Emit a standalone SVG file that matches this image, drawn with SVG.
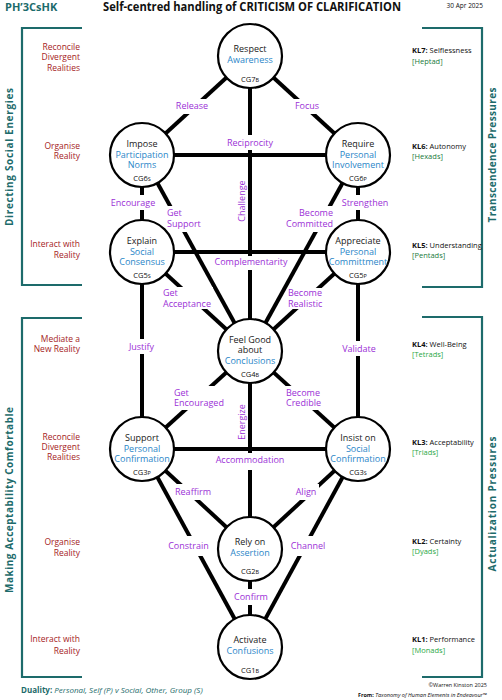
<svg xmlns="http://www.w3.org/2000/svg" width="502" height="700" viewBox="0 0 502 700">
<style>
text{font-family:"Open Sans","Noto Sans","Liberation Sans",sans-serif}
.ln{stroke:#000;stroke-width:4;fill:none}
.nd{fill:#fff;stroke:#000;stroke-width:2.2}
.t1{font-size:9px;fill:#1a1a1a;text-anchor:middle}
.t2{font-size:9px;fill:#2a86c8;text-anchor:middle}
.cd{font-size:7.5px;fill:#111;text-anchor:middle}
.sb{font-size:5.5px}
.lb{font-size:9px;fill:#9b30d6;text-anchor:middle}
.lbl{font-size:9px;fill:#9b30d6}
.bg{fill:#fff}
.br{stroke:#1d6b6b;stroke-width:2.2;fill:none}
.vt{font-size:10px;font-weight:bold;fill:#1d6b6b;text-anchor:middle}
.lv{font-size:8.5px;fill:#a51d24;text-anchor:end}
.kl{font-size:7.5px;fill:#111}
.g1{font-size:7.5px;fill:#217a3c}
.g2{font-size:7.5px;fill:#2aa845}
</style>
<rect width="502" height="700" fill="#fff"/>
<g id="header">
<text x="5" y="11" font-size="11" font-weight="bold" fill="#1d6b6b">PH’3CsHK</text>
<text x="252" y="11" font-size="11.5" font-weight="bold" fill="#111" text-anchor="middle" textLength="298" lengthAdjust="spacingAndGlyphs">Self-centred handling of CRITICISM OF CLARIFICATION</text>
<text x="483" y="7.5" font-size="6.5" fill="#111" text-anchor="end">30 Apr 2025</text>
</g>
<g id="brackets">
<path class="br" d="M82,28H22V285H82"/>
<path class="br" d="M82,318H22V677H82"/>
<path class="br" d="M422,28H482V287H422"/>
<path class="br" d="M422,317H482V677H422"/>
<text class="vt" transform="translate(13,157) rotate(-90)" textLength="138" lengthAdjust="spacing">Directing Social Energies</text>
<text class="vt" transform="translate(13,500) rotate(-90)" textLength="186" lengthAdjust="spacing">Making Acceptability Comfortable</text>
<text class="vt" transform="translate(496,155) rotate(-90)" textLength="135" lengthAdjust="spacing">Transcendence Pressures</text>
<text class="vt" transform="translate(496,504) rotate(-90)" textLength="135" lengthAdjust="spacing">Actualization Pressures</text>
</g>
<g id="levels-left">
<text class="lv" x="80" y="50">Reconcile</text><text class="lv" x="80" y="60">Divergent</text><text class="lv" x="80" y="71">Realities</text>
<text class="lv" x="80" y="148.5">Organise</text><text class="lv" x="80" y="159">Reality</text>
<text class="lv" x="80" y="247">Interact with</text><text class="lv" x="80" y="258">Reality</text>
<text class="lv" x="80" y="342">Mediate a</text><text class="lv" x="80" y="352">New Reality</text>
<text class="lv" x="80" y="440">Reconcile</text><text class="lv" x="80" y="450">Divergent</text><text class="lv" x="80" y="460">Realities</text>
<text class="lv" x="80" y="545">Organise</text><text class="lv" x="80" y="556">Reality</text>
<text class="lv" x="80" y="642">Interact with</text><text class="lv" x="80" y="654">Reality</text>
</g>
<g id="levels-right">
<text class="kl" x="412" y="53"><tspan font-weight="bold">KL7:</tspan> Selflessness</text><text class="g1" x="412" y="63.5">[Heptad]</text>
<text class="kl" x="412" y="148.5"><tspan font-weight="bold">KL6:</tspan> Autonomy</text><text class="g1" x="412" y="159">[Hexads]</text>
<text class="kl" x="412" y="248"><tspan font-weight="bold">KL5:</tspan> Understanding</text><text class="g1" x="412" y="258">[Pentads]</text>
<text class="kl" x="412" y="347"><tspan font-weight="bold">KL4:</tspan> Well-Being</text><text class="g2" x="412" y="357">[Tetrads]</text>
<text class="kl" x="412" y="444.5"><tspan font-weight="bold">KL3:</tspan> Acceptability</text><text class="g2" x="412" y="455">[Triads]</text>
<text class="kl" x="412" y="543.5"><tspan font-weight="bold">KL2:</tspan> Certainty</text><text class="g2" x="412" y="554">[Dyads]</text>
<text class="kl" x="412" y="642"><tspan font-weight="bold">KL1:</tspan> Performance</text><text class="g2" x="412" y="653">[Monads]</text>
</g>
<g id="connectors">
<line class="ln" x1="250" y1="56" x2="142" y2="155"/>
<line class="ln" x1="250" y1="56" x2="358" y2="155"/>
<line class="ln" x1="250" y1="56" x2="250" y2="351"/>
<line class="ln" x1="142" y1="155" x2="358" y2="155"/>
<line class="ln" x1="142" y1="155" x2="142" y2="252"/>
<line class="ln" x1="358" y1="155" x2="358" y2="252"/>
<line class="ln" x1="142" y1="155" x2="250" y2="351"/>
<line class="ln" x1="358" y1="155" x2="250" y2="351"/>
<line class="ln" x1="142" y1="252" x2="358" y2="252"/>
<line class="ln" x1="142" y1="252" x2="250" y2="351"/>
<line class="ln" x1="358" y1="252" x2="250" y2="351"/>
<line class="ln" x1="142" y1="252" x2="142" y2="449"/>
<line class="ln" x1="358" y1="252" x2="358" y2="449"/>
<line class="ln" x1="250" y1="351" x2="142" y2="449"/>
<line class="ln" x1="250" y1="351" x2="358" y2="449"/>
<line class="ln" x1="250" y1="351" x2="250" y2="549"/>
<line class="ln" x1="142" y1="449" x2="358" y2="449"/>
<line class="ln" x1="142" y1="449" x2="250" y2="549"/>
<line class="ln" x1="358" y1="449" x2="250" y2="549"/>
<line class="ln" x1="142" y1="449" x2="250" y2="647"/>
<line class="ln" x1="358" y1="449" x2="250" y2="647"/>
<line class="ln" x1="250" y1="549" x2="250" y2="647"/>
</g>
<g id="connector-labels">
<rect class="bg" x="174" y="99" width="36" height="15"/><text class="lb" x="192" y="109">Release</text>
<rect class="bg" x="292" y="99" width="30" height="15"/><text class="lb" x="307" y="109">Focus</text>
<rect class="bg" x="225" y="135" width="50" height="15"/><text class="lb" x="250" y="146">Reciprocity</text>
<text class="lb" transform="translate(245,201) rotate(-90)">Challenge</text>
<rect class="bg" x="109" y="195" width="49" height="15"/><text class="lb" x="133" y="206">Encourage</text>
<rect class="bg" x="164" y="206" width="40" height="26"/><text class="lbl" x="167" y="216">Get</text><text class="lbl" x="167" y="227">Support</text>
<rect class="bg" x="340" y="195" width="50" height="15"/><text class="lb" x="365" y="206">Strengthen</text>
<rect class="bg" x="282" y="206" width="54" height="26"/><text class="lbl" x="333" y="216" text-anchor="end">Become</text><text class="lbl" x="333" y="227" text-anchor="end">Committed</text>
<rect class="bg" x="212" y="256" width="78" height="14"/><text class="lb" x="251" y="265">Complementarity</text>
<rect class="bg" x="161" y="287" width="52" height="22"/><text class="lbl" x="163" y="296">Get</text><text class="lbl" x="163" y="307">Acceptance</text>
<rect class="bg" x="287" y="288" width="38" height="21"/><text class="lbl" x="288" y="296">Become</text><text class="lbl" x="288" y="307">Realistic</text>
<rect class="bg" x="126" y="339" width="32" height="15"/><text class="lb" x="141.5" y="350">Justify</text>
<rect class="bg" x="340" y="341" width="38" height="15"/><text class="lb" x="359" y="352">Validate</text>
<rect class="bg" x="171" y="386" width="57" height="24"/><text class="lbl" x="174" y="396">Get</text><text class="lbl" x="174" y="406">Encouraged</text>
<rect class="bg" x="283" y="386" width="40" height="24"/><text class="lbl" x="286" y="396">Become</text><text class="lbl" x="286" y="406">Credible</text>
<text class="lb" transform="translate(244.5,422) rotate(-90)">Energize</text>
<rect class="bg" x="215" y="453" width="70" height="17"/><text class="lb" x="250" y="463">Accommodation</text>
<rect class="bg" x="174" y="484" width="38" height="16"/><text class="lb" x="193" y="495">Reaffirm</text>
<rect class="bg" x="293" y="484" width="26" height="16"/><text class="lb" x="306" y="495">Align</text>
<rect class="bg" x="166" y="536" width="46" height="20"/><text class="lb" x="188.5" y="549">Constrain</text>
<rect class="bg" x="289" y="536" width="40" height="20"/><text class="lb" x="308" y="549">Channel</text>
<rect class="bg" x="232" y="589" width="38" height="16"/><text class="lb" x="251" y="600">Confirm</text>
</g>
<g id="CG7"><circle class="nd" cx="250" cy="56" r="32"/><text class="t1" x="250" y="52">Respect</text><text class="t2" x="250" y="63">Awareness</text><text class="cd" x="250" y="82">CG7<tspan class="sb">B</tspan></text></g>
<g id="CG6S"><circle class="nd" cx="142" cy="155" r="32"/><text class="t1" x="142" y="147">Impose</text><text class="t2" x="142" y="158">Participation</text><text class="t2" x="142" y="168">Norms</text><text class="cd" x="142" y="181">CG6<tspan class="sb">S</tspan></text></g>
<g id="CG6P"><circle class="nd" cx="358" cy="155" r="32"/><text class="t1" x="358" y="147">Require</text><text class="t2" x="358" y="158">Personal</text><text class="t2" x="358" y="168">Involvement</text><text class="cd" x="358" y="181">CG6<tspan class="sb">P</tspan></text></g>
<g id="CG5S"><circle class="nd" cx="142" cy="252" r="32"/><text class="t1" x="142" y="244">Explain</text><text class="t2" x="142" y="255">Social</text><text class="t2" x="142" y="265">Consensus</text><text class="cd" x="142" y="278">CG5<tspan class="sb">S</tspan></text></g>
<g id="CG5P"><circle class="nd" cx="358" cy="252" r="32"/><text class="t1" x="358" y="244">Appreciate</text><text class="t2" x="358" y="255">Personal</text><text class="t2" x="358" y="265">Committment</text><text class="cd" x="358" y="278">CG5<tspan class="sb">P</tspan></text></g>
<g id="CG4B"><circle class="nd" cx="250" cy="351" r="32"/><text class="t1" x="250" y="343">Feel Good</text><text class="t1" x="250" y="353">about</text><text class="t2" x="250" y="364">Conclusions</text><text class="cd" x="250" y="377">CG4<tspan class="sb">B</tspan></text></g>
<g id="CG3P"><circle class="nd" cx="142" cy="449" r="32"/><text class="t1" x="142" y="441">Support</text><text class="t2" x="142" y="452">Personal</text><text class="t2" x="142" y="462">Confirmation</text><text class="cd" x="142" y="475">CG3<tspan class="sb">P</tspan></text></g>
<g id="CG3S"><circle class="nd" cx="358" cy="449" r="32"/><text class="t1" x="358" y="441">Insist on</text><text class="t2" x="358" y="452">Social</text><text class="t2" x="358" y="462">Confirmation</text><text class="cd" x="358" y="475">CG3<tspan class="sb">S</tspan></text></g>
<g id="CG2B"><circle class="nd" cx="250" cy="549" r="32"/><text class="t1" x="250" y="545">Rely on</text><text class="t2" x="250" y="556">Assertion</text><text class="cd" x="250" y="574">CG2<tspan class="sb">B</tspan></text></g>
<g id="CG1B"><circle class="nd" cx="250" cy="647" r="32"/><text class="t1" x="250" y="643">Activate</text><text class="t2" x="250" y="654">Confusions</text><text class="cd" x="250" y="673">CG1<tspan class="sb">B</tspan></text></g>
<g id="footer">
<text x="21" y="693" font-size="8" fill="#1d6b6b"><tspan font-weight="bold">Duality:</tspan> <tspan font-style="italic">Personal, Self (P) v Social, Other, Group (S)</tspan></text>
<text x="487" y="687" font-size="5.5" fill="#111" text-anchor="end">©Warren Kinston 2025</text>
<text x="487" y="697" font-size="5.5" fill="#111" text-anchor="end"><tspan font-weight="bold">From:</tspan> <tspan font-style="italic">Taxonomy of Human Elements in Endeavour™</tspan></text>
</g>
</svg>
